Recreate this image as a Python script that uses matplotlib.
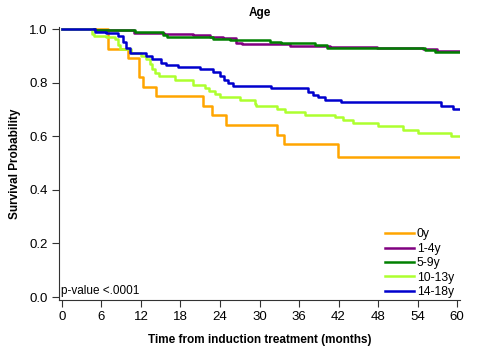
import matplotlib
matplotlib.use("Agg")
import matplotlib.pyplot as plt

plt.rcParams['font.family'] = ['Liberation Sans', 'DejaVu Sans']

# Kaplan-Meier step data (months, survival)
t_0y = [0, 7.0, 10.0, 11.7, 12.3, 14.3, 21.4, 22.8, 24.9, 32.6, 33.7, 41.9, 60.3]
s_0y = [1.0, 0.927, 0.891, 0.821, 0.784, 0.749, 0.713, 0.678, 0.642, 0.606, 0.571, 0.523, 0.523]

t_1_4 = [0, 5.0, 11.0, 15.5, 19.9, 22.5, 24.5, 26.5, 27.3, 34.6, 37.3, 40.7, 47.8, 54.8, 56.9, 60.3]
s_1_4 = [1.0, 0.996, 0.984, 0.981, 0.978, 0.972, 0.966, 0.947, 0.943, 0.938, 0.936, 0.933, 0.93,
         0.925, 0.92, 0.92]

t_5_9 = [0, 5.0, 11.1, 15.3, 15.9, 22.9, 25.5, 31.6, 33.3, 38.4, 40.2, 55.1, 56.6, 60.3]
s_5_9 = [1.0, 0.998, 0.99, 0.978, 0.972, 0.963, 0.958, 0.95, 0.947, 0.94, 0.93, 0.922, 0.916, 0.916]

t_10_13 = [0, 4.6, 4.9, 6.7, 8.0, 8.5, 8.8, 10.5, 12.0, 12.8, 13.3, 13.7, 14.1, 14.8, 17.1, 19.9,
           21.7, 22.4, 23.2, 24.0, 27.0, 29.3, 29.5, 32.6, 33.8, 36.9, 41.4, 42.7, 44.2, 48.0,
           51.8, 54.1, 59.1, 60.3]
s_10_13 = [1.0, 0.981, 0.975, 0.97, 0.962, 0.94, 0.925, 0.91, 0.90, 0.89, 0.87, 0.85, 0.835, 0.825,
           0.809, 0.791, 0.78, 0.77, 0.757, 0.745, 0.735, 0.722, 0.713, 0.702, 0.691, 0.68, 0.672,
           0.66, 0.648, 0.637, 0.625, 0.612, 0.60, 0.60]

t_14_18 = [0, 5.0, 6.7, 8.5, 9.2, 9.8, 10.3, 12.8, 13.6, 15.1, 15.8, 17.6, 20.9, 22.9, 24.0, 24.6,
           25.2, 26.0, 31.8, 37.4, 38.1, 38.9, 39.9, 42.4, 57.6, 59.4, 60.3]
s_14_18 = [1.0, 0.99, 0.985, 0.975, 0.95, 0.93, 0.911, 0.90, 0.89, 0.875, 0.866, 0.858, 0.85, 0.84,
           0.825, 0.81, 0.80, 0.788, 0.78, 0.765, 0.755, 0.745, 0.735, 0.727, 0.712, 0.70, 0.70]

labels = ['0y', '1-4y', '5-9y', '10-13y', '14-18y']
colors = ['#FFA500', '#800080', '#008000', '#ADFF2F', '#0000CD']
series = [(t_0y, s_0y), (t_1_4, s_1_4), (t_5_9, s_5_9), (t_10_13, s_10_13), (t_14_18, s_14_18)]

fig = plt.figure(figsize=(5, 3.61), dpi=100)
ax = fig.add_axes([0.118, 0.169, 0.802, 0.756])

for (t, s), lab, c in zip(series, labels, colors):
    ax.step(t, s, where='post', color=c, lw=1.8, label=lab)

ax.set_xlim(-0.45, 60.45)
ax.set_ylim(-0.011, 1.0075)
ax.set_xticks(range(0, 61, 6))
ax.set_yticks([0.0, 0.2, 0.4, 0.6, 0.8, 1.0])
ax.set_yticklabels(['0.0', '0.2', '0.4', '0.6', '0.8', '1.0'])
ax.tick_params(direction='out', length=5, width=0.8, labelsize=9.5, colors='#333333',
               labelcolor='black', pad=3)
for side in ['top', 'right']:
    ax.spines[side].set_visible(False)
for side in ['left', 'bottom']:
    ax.spines[side].set_color('#333333')
    ax.spines[side].set_linewidth(0.8)

ax.set_title('Age', fontsize=8.5, fontweight='bold', pad=8)
ax.set_xlabel('Time from induction treatment (months)', fontsize=8.5, fontweight='bold', labelpad=8)
ax.set_ylabel('Survival Probability', fontsize=8.5, fontweight='bold', labelpad=6)

ax.text(0.005, 0.012, 'p-value <.0001', transform=ax.transAxes, fontsize=8.5, ha='left', va='bottom')

ax.legend(loc='lower right', frameon=False, fontsize=8.7, handlelength=2.4, handletextpad=0.25,
          labelspacing=0.2, borderaxespad=0.1, bbox_to_anchor=(1.0, -0.015))

fig.savefig('out.png', dpi=100)
